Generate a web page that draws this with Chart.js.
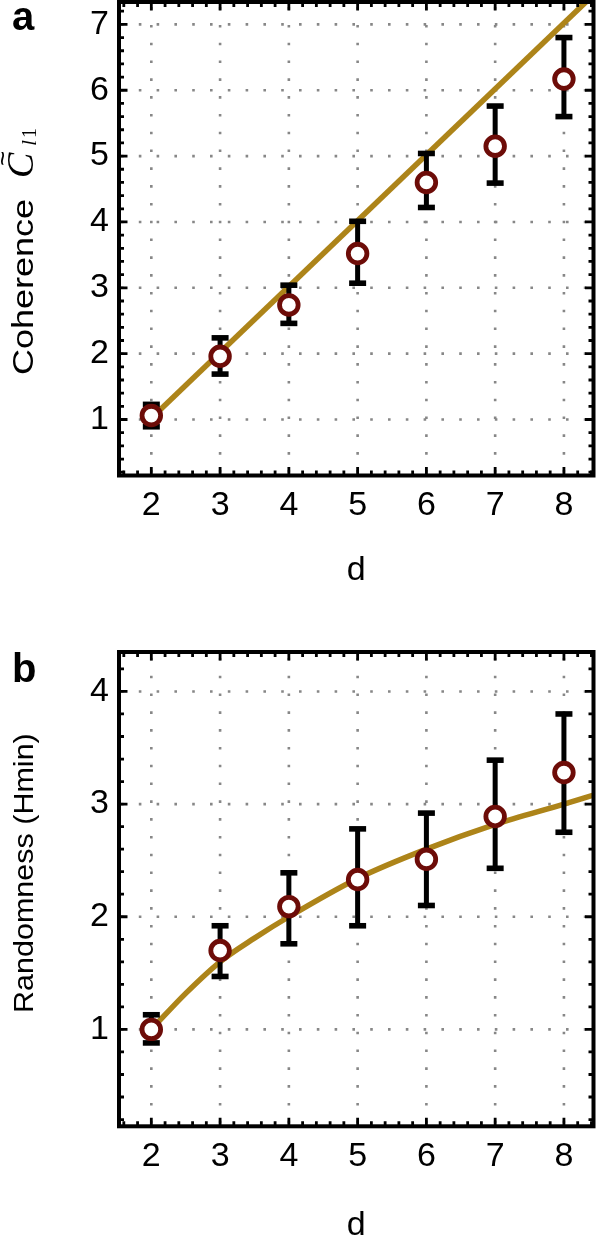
<!DOCTYPE html>
<html>
<head>
<meta charset="utf-8">
<script src="https://cdn.jsdelivr.net/npm/chart.js@4.4.0/dist/chart.umd.min.js"></script>
<style>
  html, body { margin: 0; padding: 0; background: #fff; }
  .panel { position: relative; width: 597px; }
  #panelA { height: 650px; }
  #panelB { height: 590px; }
  canvas { display: block; }
</style>
</head>
<body>
<div class="panel" id="panelA"><canvas id="coherenceChart" width="597" height="650"></canvas></div>
<div class="panel" id="panelB"><canvas id="randomnessChart" width="597" height="590"></canvas></div>
<script>
// dimension d of the states
const dims = [2, 3, 4, 5, 6, 7, 8];
const xTicks = [2, 3, 4, 5, 6, 7, 8];

// panel a: coherence, measured points with error bars + theory line
const coherence = [1.06, 1.96, 2.74, 3.52, 4.60, 5.15, 6.17];
const coherenceLow = [0.89, 1.69, 2.46, 3.07, 4.22, 4.59, 5.60];
const coherenceHigh = [1.23, 2.24, 3.04, 4.01, 5.04, 5.76, 6.80];
const coherenceTheoryD = [2, 8.43];
const coherenceTheory = [1.02, 7.45];
const coherenceTicks = [1, 2, 3, 4, 5, 6, 7];

// panel b: randomness (Hmin)
const randomness = [1.00, 1.70, 2.09, 2.33, 2.51, 2.89, 3.28];
const randomnessLow = [0.88, 1.47, 1.76, 1.92, 2.10, 2.43, 2.75];
const randomnessHigh = [1.13, 1.92, 2.39, 2.78, 2.92, 3.39, 3.80];
const randomnessTheoryD = [2, 2.5, 3, 3.5, 4, 5, 6, 7, 8, 8.43];
const randomnessTheory = [1.00, 1.32, 1.60, 1.81, 2.00, 2.34, 2.60, 2.82, 3.00, 3.08];
const randomnessTicks = [1, 2, 3, 4];

const gold = "#ad8419";
const darkRed = "#6d0c08";
const gridGray = "#878787";
const sansFamily = "'Liberation Sans', Arial, sans-serif";
const serifFamily = "'Liberation Serif', 'Times New Roman', serif";

function toPoints(xs, ys) {
    return xs.map((x, i) => ({ x: x, y: ys[i] }));
}

function drawVerticalTitle(ctx, baseX, startY, runs) {
    ctx.save();
    ctx.translate(baseX, startY);
    ctx.rotate(-Math.PI / 2);
    ctx.fillStyle = "#000";
    ctx.textAlign = "left";
    ctx.textBaseline = "alphabetic";
    runs.forEach(r => {
        ctx.font = r.font;
        ctx.save();
        ctx.translate(r.u, r.v || 0);
        ctx.scale(r.stretch || 1, 1);
        ctx.fillText(r.text, 0, 0);
        ctx.restore();
    });
    ctx.restore();
}

function framePlugin(cfg) {
    return {
        id: "frame_" + cfg.letter,
        beforeDatasetsDraw(chart) {
            const { ctx, chartArea: a, scales: { x, y } } = chart;
            ctx.save();
            ctx.strokeStyle = gridGray;
            ctx.lineWidth = 2.6;
            ctx.lineCap = "butt";
            ctx.setLineDash([2.6, 15.2]);
            cfg.xTicks.forEach(v => {
                const px = x.getPixelForValue(v);
                ctx.beginPath();
                ctx.moveTo(px, a.bottom - 3);
                ctx.lineTo(px, a.top);
                ctx.stroke();
            });
            cfg.yTicks.forEach(v => {
                const py = y.getPixelForValue(v);
                ctx.beginPath();
                ctx.moveTo(a.left + 2, py);
                ctx.lineTo(a.right, py);
                ctx.stroke();
            });
            ctx.restore();
        },
        afterDatasetDraw(chart, args) {
            // error bars go over the theory curve but under the markers
            if (args.index !== 1) return;
            const { ctx, scales: { x, y } } = chart;
            ctx.save();
            ctx.fillStyle = "#000";
            cfg.d.forEach((d, i) => {
                const px = x.getPixelForValue(d);
                const top = y.getPixelForValue(cfg.high[i]);
                const bot = y.getPixelForValue(cfg.low[i]);
                ctx.fillRect(px - 2.5, top, 5, bot - top);
                ctx.fillRect(px - 8.5, top - 2.8, 17, 5.6);
                ctx.fillRect(px - 8.5, bot - 2.8, 17, 5.6);
            });
            ctx.restore();
        },
        afterDraw(chart) {
            const { ctx, chartArea: a, scales: { x, y } } = chart;
            ctx.save();
            ctx.strokeStyle = "#000";
            // inward ticks on all four sides, minor every 0.2
            ctx.lineWidth = 2.8;
            for (let k = Math.ceil(x.min / 0.2); k * 0.2 <= x.max; k++) {
                const v = k * 0.2;
                const len = Math.abs(v - Math.round(v)) < 1e-6 ? 8.5 : 5;
                const px = x.getPixelForValue(v);
                ctx.beginPath();
                ctx.moveTo(px, a.bottom); ctx.lineTo(px, a.bottom - len);
                ctx.moveTo(px, a.top); ctx.lineTo(px, a.top + len);
                ctx.stroke();
            }
            for (let k = Math.ceil(y.min / 0.2); k * 0.2 <= y.max; k++) {
                const v = k * 0.2;
                const len = Math.abs(v - Math.round(v)) < 1e-6 ? 8.5 : 5;
                const py = y.getPixelForValue(v);
                ctx.beginPath();
                ctx.moveTo(a.left, py); ctx.lineTo(a.left + len, py);
                ctx.moveTo(a.right, py); ctx.lineTo(a.right - len, py);
                ctx.stroke();
            }
            ctx.lineWidth = 4;
            ctx.strokeRect(a.left, a.top, a.right - a.left, a.bottom - a.top);
            ctx.restore();

            drawVerticalTitle(ctx, 33, cfg.titleStart, cfg.titleRuns);

            ctx.save();
            ctx.fillStyle = "#000";
            ctx.font = "bold 40px " + sansFamily;
            ctx.textBaseline = "alphabetic";
            ctx.fillText(cfg.letter, 12, cfg.letterY);
            ctx.restore();
        }
    };
}

function makePanel(canvas, cfg) {
    const tickFont = { family: sansFamily, size: 34 };
    new Chart(canvas, {
        type: "scatter",
        data: {
            datasets: [{
                label: "measured",
                data: toPoints(dims, cfg.values),
                pointRadius: 9.3,
                pointHoverRadius: 9.3,
                pointBorderWidth: 4.8,
                pointBorderColor: darkRed,
                pointBackgroundColor: "#fff",
                showLine: false,
                clip: false
            }, {
                label: "theory",
                type: "line",
                data: toPoints(cfg.theoryD, cfg.theory),
                borderColor: gold,
                borderWidth: 5.5,
                pointRadius: 0,
                cubicInterpolationMode: "monotone",
                fill: false,
                clip: 0
            }]
        },
        options: {
            responsive: false,
            animation: false,
            devicePixelRatio: 1,
            layout: { autoPadding: false, padding: { top: 2, right: 3.5, left: 0, bottom: 0 } },
            plugins: {
                legend: { display: false },
                tooltip: { enabled: false }
            },
            scales: {
                x: {
                    type: "linear",
                    position: "bottom",
                    min: 1.53,
                    max: 8.43,
                    grid: { display: false, drawTicks: false },
                    border: { display: false },
                    afterBuildTicks: scale => { scale.ticks = xTicks.map(v => ({ value: v })); },
                    afterFit: scale => {
                        scale.height = cfg.xAxisHeight;
                        scale.paddingLeft = 0;
                        scale.paddingRight = 0;
                    },
                    ticks: {
                        font: tickFont,
                        color: "#000",
                        padding: 10,
                        autoSkip: false,
                        maxRotation: 0,
                        callback: v => String(v)
                    },
                    title: {
                        display: true,
                        text: "d",
                        color: "#000",
                        font: { family: sansFamily, size: 34 },
                        padding: { top: 0, bottom: cfg.dPadding }
                    }
                },
                y: {
                    type: "linear",
                    position: "left",
                    min: cfg.yMin,
                    max: cfg.yMax,
                    grid: { display: false, drawTicks: false },
                    border: { display: false },
                    afterBuildTicks: scale => { scale.ticks = cfg.yTicks.map(v => ({ value: v })); },
                    afterFit: scale => {
                        scale.width = 119;
                        scale.paddingTop = 0;
                        scale.paddingBottom = 0;
                    },
                    ticks: {
                        font: tickFont,
                        color: "#000",
                        padding: 10,
                        autoSkip: false,
                        callback: v => String(v)
                    }
                }
            }
        },
        plugins: [framePlugin(cfg)]
    });
}

makePanel(document.getElementById("coherenceChart"), {
    letter: "a",
    letterY: 30,
    values: coherence,
    low: coherenceLow,
    high: coherenceHigh,
    d: dims,
    theoryD: coherenceTheoryD,
    theory: coherenceTheory,
    xTicks: xTicks,
    yTicks: coherenceTicks,
    yMin: 0.15,
    yMax: 7.34,
    xAxisHeight: 650 - 475.5,
    dPadding: 59,
    titleStart: 375,
    titleRuns: [
        { text: "Coherence", font: "30px " + sansFamily, u: 0, stretch: 1.2 },
        { text: "C", font: "italic 38px " + serifFamily, u: 197 },
        { text: "~", font: "26px " + sansFamily, u: 209, v: -22 },
        { text: "l", font: "italic 22px " + serifFamily, u: 229, v: 3 },
        { text: "1", font: "20px " + serifFamily, u: 237, v: 3 }
    ]
});

makePanel(document.getElementById("randomnessChart"), {
    letter: "b",
    letterY: 32,
    values: randomness,
    low: randomnessLow,
    high: randomnessHigh,
    d: dims,
    theoryD: randomnessTheoryD,
    theory: randomnessTheory,
    xTicks: xTicks,
    yTicks: randomnessTicks,
    yMin: 0.14,
    yMax: 4.35,
    xAxisHeight: 590 - 476.3,
    dPadding: -6,
    titleStart: 363,
    titleRuns: [
        { text: "Randomness (Hmin)", font: "27px " + sansFamily, u: 0, stretch: 1.13 }
    ]
});
</script>
</body>
</html>
